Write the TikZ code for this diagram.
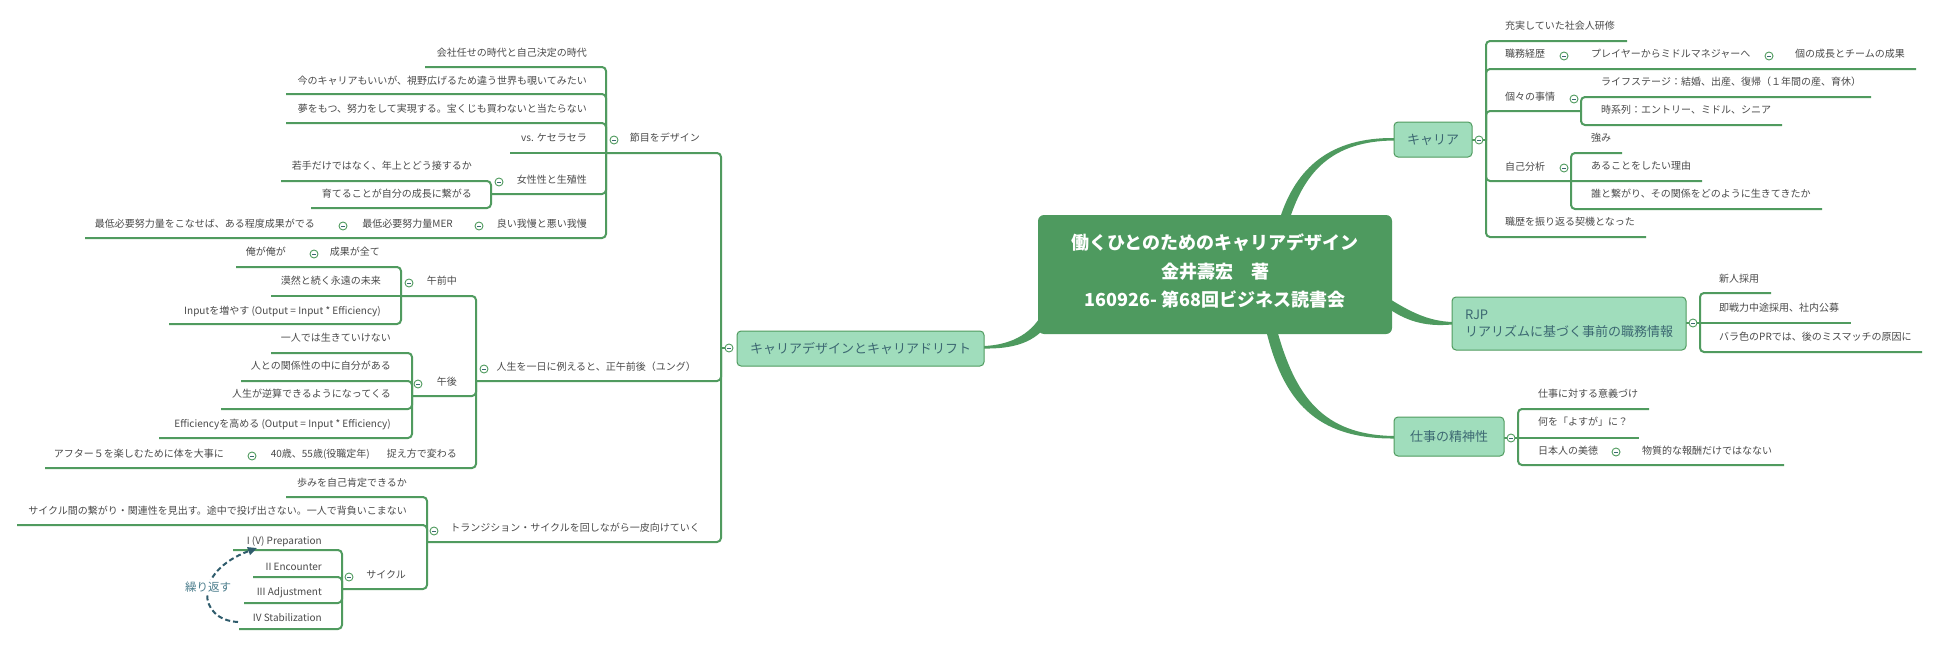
\documentclass[tikz,border=0pt]{standalone}
\usepackage{fontspec}
\setmainfont{Noto Sans CJK JP}
\usetikzlibrary{arrows.meta}
\definecolor{lc}{HTML}{509B5F}
\definecolor{darkg}{HTML}{4E9A5F}
\definecolor{lightg}{HTML}{A0DDBC}
\definecolor{nodetext}{HTML}{3C6872}
\definecolor{txtgray}{HTML}{4A4A4A}
\definecolor{loopc}{HTML}{2F5C6C}
\definecolor{looptext}{HTML}{4E7F8E}
\tikzset{
 txt/.style={font=\fontsize{10}{12}\selectfont, text=txtgray, inner sep=0pt, text height=8.8pt, text depth=1.5pt},
 tl/.style={txt, anchor=east},
 tr/.style={txt, anchor=west},
 ln/.style={draw=lc, line width=2pt, rounded corners=4pt},
 branch/.style={draw=lc, line width=1pt, fill=lightg, rounded corners=4pt, text=nodetext, font=\fontsize{13}{17}\selectfont, inner sep=0pt},
 taper/.style={fill=darkg, draw=none},
 collapse/.pic={
   \draw[draw=lc, fill=white, line width=0.9pt] (0,0) circle[radius=4pt];
   \draw[draw=nodetext, line width=0.9pt] (-2pt,0) -- (2pt,0);
 }
}
\begin{document}
\begin{tikzpicture}[x=1pt,y=-1pt]
\useasboundingbox (0,0) rectangle (1940,645);
\fill[white] (0,0) rectangle (1940,645);

% ---------- tapered main connectors ----------
\fill[taper] (1280,218) .. controls (1296,168) and (1330,137.5) .. (1394,138) -- (1394,140.5) .. controls (1332,141) and (1305,172) .. (1290,218) -- cycle;
\fill[taper] (1385,296) .. controls (1410,312) and (1428,321) .. (1452,322) -- (1452,324.5) .. controls (1425,327) and (1405,321) .. (1385,306) -- cycle;
\fill[taper] (1266,330) .. controls (1283,400) and (1315,439) .. (1394,438.5) -- (1394,436) .. controls (1322,435) and (1295,395) .. (1277,330) -- cycle;
\fill[taper] (1042,314) .. controls (1030,336) and (1008,345) .. (984,346) -- (984,348.5) .. controls (1012,349) and (1036,343) .. (1049,322) -- cycle;

% ---------- central node ----------
\node[fill=darkg, rounded corners=6pt, minimum width=354pt, minimum height=119pt, inner sep=0pt] (root) at (1215,274.5) {};
\node[text=white, font=\fontsize{18}{28.5}\selectfont\bfseries, align=center, inner sep=0pt] (roottext) at (1215,271) {働くひとのためのキャリアデザイン\\金井壽宏　著\\160926- 第68回ビジネス読書会};

% ---------- left side lines ----------
\draw[ln] (729,348) -- (721,348);
\draw[ln] (721,348) -- (721,153) -- (606,153);
\draw[ln] (721,348) -- (721,381) -- (476,381);
\draw[ln] (721,348) -- (721,542) -- (427,542);
% A
\draw[ln] (606,153) -- (606,67) -- (425,67);
\draw[ln] (606,153) -- (606,94) -- (286,94);
\draw[ln] (606,153) -- (606,123) -- (286,123);
\draw[ln] (606,153) -- (510,153);
\draw[ln] (606,153) -- (606,194) -- (491,194);
\draw[ln] (606,153) -- (606,238) -- (85,238);
\draw[ln] (491,194) -- (491,181) -- (281,181);
\draw[ln] (491,194) -- (491,208) -- (311,208);
% B
\draw[ln] (476,381) -- (476,296) -- (401,296);
\draw[ln] (476,381) -- (476,396) -- (412,396);
\draw[ln] (476,381) -- (476,468) -- (45,468);
\draw[ln] (401,296) -- (401,267) -- (236,267);
\draw[ln] (401,296) -- (271,296);
\draw[ln] (401,296) -- (401,324) -- (169,324);
\draw[ln] (412,396) -- (412,353) -- (271,353);
\draw[ln] (412,396) -- (412,381) -- (241,381);
\draw[ln] (412,396) -- (412,409) -- (221,409);
\draw[ln] (412,396) -- (412,438) -- (159,438);
% C
\draw[ln] (427,542) -- (427,497) -- (286,497);
\draw[ln] (427,542) -- (427,525) -- (17,525);
\draw[ln] (427,542) -- (427,589) -- (342,589);
\draw[ln] (342,589) -- (342,550) -- (233,550);
\draw[ln] (342,589) -- (342,577) -- (253,577);
\draw[ln] (342,589) -- (342,603) -- (244,603);
\draw[ln] (342,589) -- (342,629) -- (239,629);

% ---------- right side lines ----------
\draw[ln] (1472,140) -- (1486,140);
\draw[ln] (1486,140) -- (1486,41) -- (1627,41);
\draw[ln] (1486,140) -- (1486,69) -- (1916,69);
\draw[ln] (1486,140) -- (1486,111) -- (1581,111);
\draw[ln] (1486,140) -- (1486,181) -- (1702,181);
\draw[ln] (1486,140) -- (1486,237) -- (1646,237);
\draw[ln] (1581,111) -- (1581,97) -- (1871,97);
\draw[ln] (1581,111) -- (1581,125) -- (1782,125);
\draw[ln] (1571,181) -- (1571,153) -- (1622,153);
\draw[ln] (1571,181) -- (1571,209) -- (1822,209);
\draw[ln] (1686,323) -- (1700,323);
\draw[ln] (1700,323) -- (1700,293) -- (1771,293);
\draw[ln] (1700,323) -- (1851,323);
\draw[ln] (1700,323) -- (1700,352) -- (1922,352);
\draw[ln] (1504,438) -- (1518,438);
\draw[ln] (1518,438) -- (1518,409) -- (1649,409);
\draw[ln] (1518,438) -- (1639,438);
\draw[ln] (1518,438) -- (1518,465) -- (1784,465);

% ---------- branch nodes ----------
\node[branch, minimum width=247pt, minimum height=35pt] (drift) at (860.5,348.5) {キャリアデザインとキャリアドリフト};
\node[branch, minimum width=78pt, minimum height=35pt] (career) at (1433,139.5) {キャリア};
\node[branch, minimum width=234pt, minimum height=53pt, align=left] (rjp) at (1569,323.5) {RJP\\リアリズムに基づく事前の職務情報};
\node[branch, minimum width=110pt, minimum height=39pt] (spirit) at (1449,436.5) {仕事の精神性};

% ---------- collapse markers ----------
\foreach \p in {(729,348),(614,140),(499,182),(479,226),(343,226),(484,369),(409,283),(314,254),(418,384),(252,456),(434,531),(349,577),(1479,140),(1564,56),(1769,56),(1574,99),(1564,168),(1693,323),(1511,438),(1616,452)}
  \pic at \p {collapse};

% ---------- left texts ----------
\node[tl] (A) at (700,138) {節目をデザイン};
\node[tl] (a1) at (587,53) {会社任せの時代と自己決定の時代};
\node[tl] (a2) at (587,81) {今のキャリアもいいが、視野広げるため違う世界も覗いてみたい};
\node[tl] (a3) at (587,109) {夢をもつ、努力をして実現する。宝くじも買わないと当たらない};
\node[tl] (a4) at (587,138) {vs. ケセラセラ};
\node[tl] (a5) at (587,180) {女性性と生殖性};
\node[tl] (a5a) at (472,166) {若手だけではなく、年上とどう接するか};
\node[tl] (a5b) at (472,194) {育てることが自分の成長に繋がる};
\node[tl] (a6) at (587,224) {良い我慢と悪い我慢};
\node[tl] (a6a) at (453,224) {最低必要努力量MER};
\node[tl] (a6b) at (315,224) {最低必要努力量をこなせば、ある程度成果がでる};
\node[tl] (B) at (696,367) {人生を一日に例えると、正午前後（ユング）};
\node[tl] (b1) at (457,281) {午前中};
\node[tl] (b1a) at (380,252) {成果が全て};
\node[tl] (b1aa) at (286,252) {俺が俺が};
\node[tl] (b1b) at (381,281) {漠然と続く永遠の未来};
\node[tl] (b1c) at (381,311) {Inputを増やす (Output = Input * Efficiency)};
\node[tl] (b2) at (457,382) {午後};
\node[tl] (b2a) at (391,338) {一人では生きていけない};
\node[tl] (b2b) at (391,366) {人との関係性の中に自分がある};
\node[tl] (b2c) at (391,394) {人生が逆算できるようになってくる};
\node[tl] (b2d) at (391,424) {Efficiencyを高める (Output = Input * Efficiency)};
\node[tl] (b3) at (457,454) {捉え方で変わる};
\node[tl] (b3a) at (370,454) {40歳、55歳(役職定年)};
\node[tl] (b3b) at (224,454) {アフター５を楽しむために体を大事に};
\node[tl] (C) at (700,528) {トランジション・サイクルを回しながら一皮向けていく};
\node[tl] (c1) at (407,483) {歩みを自己肯定できるか};
\node[tl] (c2) at (407,511) {サイクル間の繋がり・関連性を見出す。途中で投げ出さない。一人で背負いこまない};
\node[tl] (c3) at (406,575) {サイクル};
\node[tl] (c3a) at (322,541) {I (V) Preparation};
\node[tl] (c3b) at (322,567) {II Encounter};
\node[tl] (c3c) at (322,592) {III Adjustment};
\node[tl] (c3d) at (322,618) {IV Stabilization};

% ---------- repeat loop ----------
\coordinate (loopstart) at (238,622);
\coordinate (looptip) at (257,548);
\draw[draw=loopc, line width=2pt, dash pattern=on 5pt off 3pt, -{Triangle[length=9pt,width=8pt]}] (loopstart) .. controls (198,620) and (192,572) .. (looptip);
\node[fill=white, inner sep=1.5pt, text=looptext, font=\fontsize{11.5}{13}\selectfont] (loop) at (208,587) {繰り返す};

% ---------- right texts ----------
\node[tr] (k1) at (1505,26) {充実していた社会人研修};
\node[tr] (k2) at (1505,54) {職務経歴};
\node[tr] (k2a) at (1591,54) {プレイヤーからミドルマネジャーへ};
\node[tr] (k2b) at (1795,54) {個の成長とチームの成果};
\node[tr] (k3) at (1505,97) {個々の事情};
\node[tr] (k3a) at (1601,82) {ライフステージ：結婚、出産、復帰（１年間の産、育休）};
\node[tr] (k3b) at (1601,110) {時系列：エントリー、ミドル、シニア};
\node[tr] (k4) at (1505,167) {自己分析};
\node[tr] (k4a) at (1591,138) {強み};
\node[tr] (k4b) at (1591,166) {あることをしたい理由};
\node[tr] (k4c) at (1591,194) {誰と繋がり、その関係をどのように生きてきたか};
\node[tr] (k5) at (1505,222) {職歴を振り返る契機となった};
\node[tr] (r1) at (1719,279) {新人採用};
\node[tr] (r2) at (1719,308) {即戦力中途採用、社内公募};
\node[tr] (r3) at (1719,337) {バラ色のPRでは、後のミスマッチの原因に};
\node[tr] (s1) at (1538,394) {仕事に対する意義づけ};
\node[tr] (s2) at (1538,422) {何を「よすが」に？};
\node[tr] (s3) at (1538,451) {日本人の美徳};
\node[tr] (s3a) at (1642,451) {物質的な報酬だけではなない};
\end{tikzpicture}
\end{document}
